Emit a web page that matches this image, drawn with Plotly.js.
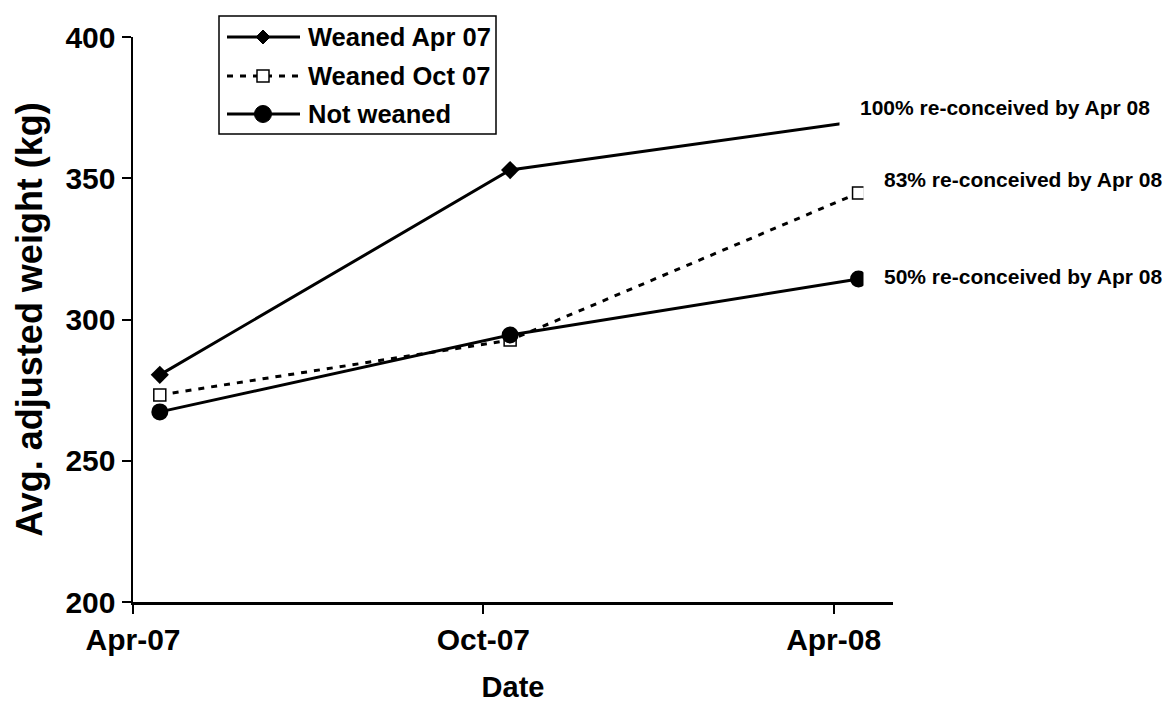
<!DOCTYPE html>
<html><head><meta charset="utf-8">
<script src="https://cdn.plot.ly/plotly-3.0.1.min.js"></script>
<style>html,body{margin:0;padding:0;background:#fff}#chart{width:1167px;height:704px}</style>
</head><body><div id="chart"></div>
<script>
// ---- data ----
const dates = ['2007-04-15', '2007-10-15', '2008-04-14'];
const seriesNames = ['Weaned Apr 07', 'Weaned Oct 07', 'Not weaned'];
const weanedApr07 = [280.4, 352.9, 370.2];
const weanedOct07 = [273.3, 292.7, 344.8];
const notWeaned = [267.3, 294.5, 314.3];
const endLabels = ['100% re-conceived by Apr 08', '83% re-conceived by Apr 08', '50% re-conceived by Apr 08'];
const xTickVals = ['2007-04-01', '2007-10-01', '2008-04-01'];
const xTickText = ['Apr-07', 'Oct-07', 'Apr-08'];
const yTickVals = [200, 250, 300, 350, 400];

// ---- layout geometry ----
const W = 1167, H = 704;
const M = {l: 133, r: 274, t: 37, b: 102};
const PW = W - M.l - M.r, PH = H - M.t - M.b;
const px = v => (v - M.l) / PW;
const py = v => (H - M.b - v) / PH;
const FONT = 'Arial, "Liberation Sans", sans-serif';

const traces = [
  {x: dates, y: weanedApr07, name: seriesNames[0], mode: 'lines+markers',
   line: {color: '#000', width: 3},
   marker: {symbol: 'diamond', size: 14, color: '#000'}},
  {x: dates, y: weanedOct07, name: seriesNames[1], mode: 'lines+markers',
   line: {color: '#000', width: 3, dash: '6px,7px'},
   marker: {symbol: 'square', size: 12, color: '#fff', line: {color: '#000', width: 1.5}}},
  {x: dates, y: notWeaned, name: seriesNames[2], mode: 'lines+markers',
   line: {color: '#000', width: 3},
   marker: {symbol: 'circle', size: 17, color: '#000'}}
];

// ---- custom legend ----
const legRows = [37, 76, 114];
const lx0 = 227, lx1 = 300, lmx = 263;
const shapes = [
  {type: 'rect', xref: 'paper', yref: 'paper', x0: px(219), x1: px(496), y0: py(16), y1: py(134),
   line: {color: '#000', width: 1.5}, fillcolor: '#fff', layer: 'above'}
];
const annotations = [];
const dashes = ['solid', '6px,7px', 'solid'];
legRows.forEach((r, i) => {
  shapes.push({type: 'line', xref: 'paper', yref: 'paper', x0: px(lx0), x1: px(lx1), y0: py(r), y1: py(r),
    line: {color: '#000', width: 3, dash: dashes[i]}, layer: 'above'});
  annotations.push({xref: 'paper', yref: 'paper', x: px(306), y: py(r), xanchor: 'left', yanchor: 'middle',
    text: seriesNames[i], showarrow: false, font: {family: FONT, size: 25.5, color: '#000', weight: 'bold'}});
});
// legend markers
{
  const r = legRows[0], s = 7;
  shapes.push({type: 'path', xref: 'paper', yref: 'paper',
    path: `M ${px(lmx - s)},${py(r)} L ${px(lmx)},${py(r - s)} L ${px(lmx + s)},${py(r)} L ${px(lmx)},${py(r + s)} Z`,
    fillcolor: '#000', line: {color: '#000', width: 1}, layer: 'above'});
}
{
  const r = legRows[1], s = 6;
  shapes.push({type: 'rect', xref: 'paper', yref: 'paper', x0: px(lmx - s), x1: px(lmx + s), y0: py(r + s), y1: py(r - s),
    fillcolor: '#fff', line: {color: '#000', width: 1.5}, layer: 'above'});
}
{
  const r = legRows[2], s = 8.5;
  shapes.push({type: 'circle', xref: 'paper', yref: 'paper', x0: px(lmx - s), x1: px(lmx + s), y0: py(r + s), y1: py(r - s),
    fillcolor: '#000', line: {color: '#000', width: 1}, layer: 'above'});
}

// ---- end labels ----
const endY = [weanedApr07[2] + 5, weanedOct07[2] + 4.6, notWeaned[2] + 1];
const endShift = [-20, 4, 4];
endLabels.forEach((t, i) => {
  annotations.push({xref: 'x', yref: 'y', x: dates[2], y: endY[i], xanchor: 'left', yanchor: 'middle',
    xshift: endShift[i], text: t, showarrow: false, bgcolor: '#fff', borderpad: 20,
    font: {family: FONT, size: 21, color: '#000', weight: 'bold'}});
});

const layout = {
  width: W, height: H,
  margin: M,
  paper_bgcolor: '#fff', plot_bgcolor: '#fff',
  showlegend: false,
  font: {family: FONT, color: '#000'},
  xaxis: {
    type: 'date', range: ['2007-04-01', '2008-05-02'],
    tickmode: 'array', tickvals: xTickVals, ticktext: xTickText,
    ticks: 'outside', ticklen: 9, tickwidth: 2, tickcolor: '#000',
    showline: true, linecolor: '#000', linewidth: 2.5,
    showgrid: false, zeroline: false,
    tickfont: {family: FONT, size: 30, weight: 'bold'},
    title: {text: 'Date', font: {family: FONT, size: 29, weight: 'bold'}, standoff: 22}
  },
  yaxis: {
    range: [200, 400], tickmode: 'array', tickvals: yTickVals,
    ticks: 'outside', ticklen: 9, tickwidth: 2, tickcolor: '#000',
    showline: true, linecolor: '#000', linewidth: 2.5,
    showgrid: false, zeroline: false,
    tickfont: {family: FONT, size: 30, weight: 'bold'},
    title: {text: 'Avg. adjusted weight (kg)', font: {family: FONT, size: 36, weight: 'bold'}, standoff: 12}
  },
  shapes: shapes,
  annotations: annotations
};

Plotly.newPlot('chart', traces, layout, {displayModeBar: false, staticPlot: true});
</script>
</body></html>
